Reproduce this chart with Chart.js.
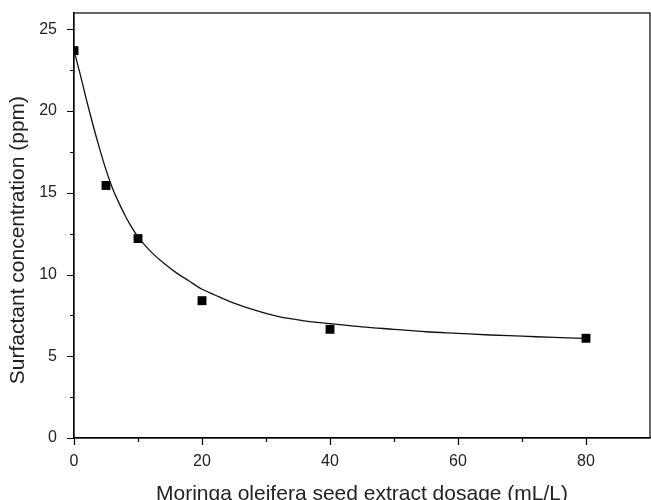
<!DOCTYPE html>
<html>
<head>
<meta charset="utf-8">
<script src="https://cdn.jsdelivr.net/npm/chart.js@4.4.1/dist/chart.umd.min.js"></script>
<style>
  html, body { margin: 0; padding: 0; background: #fff; }
  #wrap { width: 651px; height: 500px; }
</style>
</head>
<body>
<div id="wrap"><canvas id="chart"></canvas></div>
<script>
// measured points
const dosage = [0, 5, 10, 20, 40, 80];
const surfactant = [23.7, 15.45, 12.2, 8.4, 6.65, 6.1];

// fitted curve
const fitX = [0, 1, 2, 3, 4, 5, 6, 7, 8, 9, 10, 12, 14, 16, 18, 20, 22, 25, 28, 32, 36, 40, 45, 50, 55, 60, 65, 70, 75, 80];
const fitY = [23.7, 22.2, 20.6, 19.1, 17.7, 16.4, 15.3, 14.4, 13.6, 12.9, 12.3, 11.4, 10.7, 10.1, 9.6, 9.1, 8.75, 8.25, 7.85, 7.42, 7.17, 7.0, 6.8, 6.65, 6.5, 6.4, 6.3, 6.23, 6.15, 6.09];

// tick values (major ones get labels)
const xTicks = [0, 10, 20, 30, 40, 50, 60, 70, 80, 90];
const xMajor = [0, 20, 40, 60, 80];
const yTicks = [0, 2.5, 5, 7.5, 10, 12.5, 15, 17.5, 20, 22.5, 25];
const yMajor = [0, 5, 10, 15, 20, 25];

const FONT = "'Liberation Sans', Arial, sans-serif";
const INK = "#222";

// 🔹 Frame + tick marks (major longer than minor)
const framePlugin = {
  id: "frame",
  afterDraw(chart) {
    const { ctx, chartArea: a, scales: { x, y } } = chart;
    ctx.save();
    ctx.strokeStyle = "#000";
    ctx.lineWidth = 1.2;
    ctx.strokeRect(a.left, a.top, a.right - a.left, a.bottom - a.top);
    ctx.beginPath();
    xTicks.forEach(v => {
      if (v === 90) return;
      const px = Math.round(x.getPixelForValue(v)) + 0.5;
      const len = xMajor.includes(v) ? 7 : 4;
      ctx.moveTo(px, a.bottom);
      ctx.lineTo(px, a.bottom + len);
    });
    yTicks.forEach(v => {
      const py = Math.round(y.getPixelForValue(v)) + 0.5;
      const len = yMajor.includes(v) ? 7 : 4;
      ctx.moveTo(a.left, py);
      ctx.lineTo(a.left - len, py);
    });
    ctx.stroke();
    ctx.restore();
  }
};

new Chart(document.getElementById("chart"), {
  type: "scatter",
  data: {
    datasets: [
      {
        label: "fit",
        data: fitX.map((v, i) => ({ x: v, y: fitY[i] })),
        showLine: true,
        borderColor: "#111",
        borderWidth: 1.3,
        pointRadius: 0,
        cubicInterpolationMode: "monotone"
      },
      {
        label: "measured",
        data: dosage.map((v, i) => ({ x: v, y: surfactant[i] })),
        pointStyle: "rect",
        pointRadius: 6.3,
        backgroundColor: "#000",
        borderColor: "#000",
        borderWidth: 0
      }
    ]
  },
  options: {
    responsive: true,
    maintainAspectRatio: false,
    animation: false,
    layout: { autoPadding: false, padding: { top: 13, right: 1, left: 0, bottom: 0 } },
    plugins: { legend: { display: false }, tooltip: { enabled: false } },
    scales: {
      x: {
        type: "linear",
        min: 0,
        max: 90,
        afterBuildTicks: s => { s.ticks = xTicks.map(v => ({ value: v })); },
        afterFit: s => { s.height = 62; s.paddingLeft = 0; s.paddingRight = 0; },
        grid: { drawOnChartArea: false, drawTicks: true, tickLength: 6, tickColor: "transparent" },
        border: { color: "#000", width: 1.2 },
        ticks: {
          padding: 8,
          maxRotation: 0,
          autoSkip: false,
          color: INK,
          font: { family: FONT, size: 16 },
          callback: v => xMajor.includes(v) ? String(v) : ""
        },
        title: {
          display: true,
          text: "Moringa oleifera seed extract dosage (mL/L)",
          color: INK,
          font: { family: FONT, size: 21 },
          padding: { top: 0, bottom: -7 }
        }
      },
      y: {
        type: "linear",
        min: 0,
        max: 26,
        afterBuildTicks: s => { s.ticks = yTicks.map(v => ({ value: v })); },
        afterFit: s => { s.width = 74; s.paddingTop = 0; s.paddingBottom = 0; },
        grid: { drawOnChartArea: false, drawTicks: true, tickLength: 6, tickColor: "transparent" },
        border: { color: "#000", width: 1.2 },
        ticks: {
          padding: 11,
          autoSkip: false,
          color: INK,
          font: { family: FONT, size: 16 },
          callback: v => yMajor.includes(v) ? String(v) : ""
        },
        title: {
          display: true,
          // trailing spaces push the visible text a little below the axis centre, as in the original
          text: "Surfactant concentration (ppm)     ",
          color: INK,
          font: { family: FONT, size: 21 },
          padding: { top: 6, bottom: 0 }
        }
      }
    }
  },
  plugins: [framePlugin]
});
</script>
</body>
</html>
